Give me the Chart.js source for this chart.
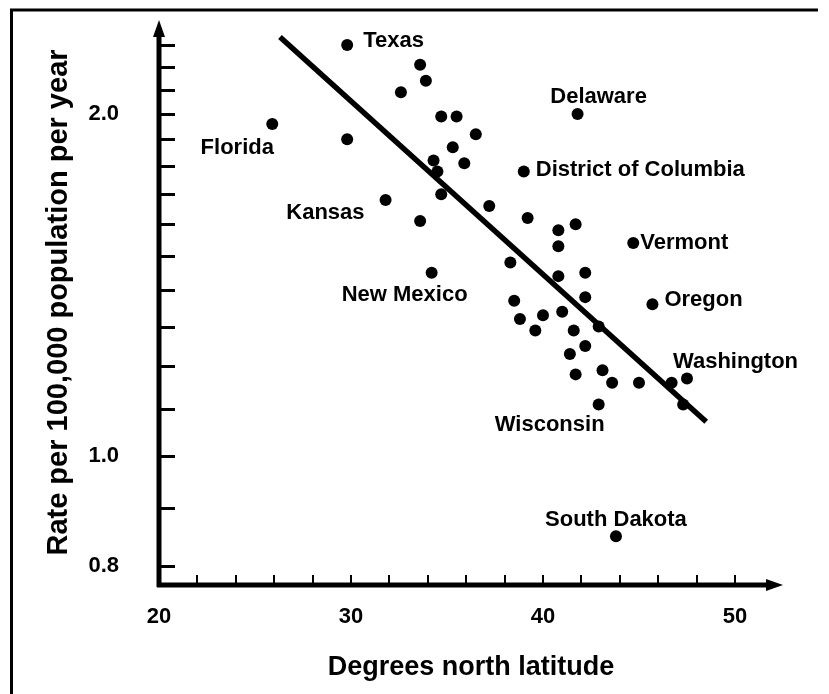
<!DOCTYPE html>
<html>
<head>
<meta charset="utf-8">
<script src="https://cdn.jsdelivr.net/npm/chart.js@4.4.1/dist/chart.umd.min.js"></script>
<style>
  html, body { margin: 0; padding: 0; background: #fff; }
  canvas { display: block; }
</style>
</head>
<body>
<canvas id="chart" width="829" height="694"></canvas>
<script>
// Mortality rate by state against latitude (log scale rate)
const latitude = [29.8, 33.6, 33.9, 32.6, 25.9, 34.7, 35.5, 36.5, 29.8, 35.3,
                  34.3, 35.9, 34.5, 34.7, 31.8, 33.6, 41.8, 39.0, 37.2, 39.2,
                  41.7, 40.8, 34.2, 40.8, 44.7, 38.3, 40.8, 42.2, 38.5, 42.2,
                  45.7, 38.8, 40.0, 41.0, 39.6, 41.6, 42.9, 42.2, 41.4, 41.7,
                  43.1, 43.6, 45.0, 46.7, 47.5, 42.9, 47.3, 43.8];
const rate = [2.30, 2.21, 2.14, 2.09, 1.96, 1.99, 1.99, 1.92, 1.90, 1.87,
              1.82, 1.81, 1.78, 1.70, 1.68, 1.61, 2.00, 1.78, 1.66, 1.62,
              1.60, 1.58, 1.45, 1.53, 1.54, 1.48, 1.44, 1.45, 1.37, 1.38,
              1.36, 1.32, 1.33, 1.34, 1.29, 1.29, 1.30, 1.25, 1.23, 1.18,
              1.19, 1.16, 1.16, 1.16, 1.17, 1.11, 1.11, 0.85];
const stateName = ['Texas', '', '', '', 'Florida', '', '', '', '', '',
                   '', '', '', '', 'Kansas', '', 'Delaware', 'District of Columbia', '', '',
                   '', '', 'New Mexico', '', 'Vermont', '', '', '', '', '',
                   'Oregon', '', '', '', '', '', '', '', '', '',
                   '', '', '', '', 'Washington', 'Wisconsin', '', 'South Dakota'];

// Fitted trend line end points
const fitLatitude = [26.3, 48.5];
const fitRate = [2.338, 1.072];

// Axis ticks
const xTickValues = [20, 22, 24, 26, 28, 30, 32, 34, 36, 38, 40, 42, 44, 46, 48, 50];
const xTickLabels = [20, 30, 40, 50];
const yTickValues = [0.8, 0.9, 1.0, 1.1, 1.2, 1.3, 1.4, 1.5, 1.6, 1.7, 1.8, 1.9, 2.0, 2.1, 2.2, 2.3];
const yTickLabels = [0.8, 1.0, 2.0];

const FONT = 'Liberation Sans, Arial, Helvetica, sans-serif';

// Where each state name sits relative to its dot
const namePlacement = {
  'Texas':                { dx: 16,  dy: -4,  align: 'left' },
  'Florida':              { dx: -35, dy: 24,  align: 'center' },
  'Kansas':               { dx: -21, dy: 13,  align: 'right' },
  'Delaware':             { dx: 21,  dy: -17, align: 'center' },
  'District of Columbia': { dx: 12,  dy: -2,  align: 'left' },
  'New Mexico':           { dx: -27, dy: 22,  align: 'center' },
  'Vermont':              { dx: 7,   dy: 0,   align: 'left' },
  'Oregon':               { dx: 12,  dy: -4,  align: 'left' },
  'Washington':           { dx: -14, dy: -17, align: 'left' },
  'Wisconsin':            { dx: -49, dy: 20,  align: 'center' },
  'South Dakota':         { dx: 0,   dy: -16, align: 'center' }
};

const framePlugin = {
  id: 'frame',
  beforeDraw(chart) {
    const ctx = chart.ctx;
    ctx.save();
    ctx.fillStyle = '#fff';
    ctx.fillRect(0, 0, chart.width, chart.height);
    ctx.strokeStyle = '#000';
    ctx.lineWidth = 3;
    ctx.beginPath();
    ctx.moveTo(11.5, chart.height);
    ctx.lineTo(11.5, 10);
    ctx.lineTo(818, 10);
    ctx.stroke();
    ctx.restore();
  }
};

const axesPlugin = {
  id: 'arrowAxes',
  afterDatasetsDraw(chart) {
    const { ctx, chartArea, scales } = chart;
    const { left, right, top, bottom } = chartArea;
    ctx.save();
    ctx.strokeStyle = '#000';
    ctx.fillStyle = '#000';
    ctx.lineCap = 'butt';
    // axis lines
    ctx.lineWidth = 5;
    ctx.beginPath();
    ctx.moveTo(left, bottom + 2);
    ctx.lineTo(left, top + 12);
    ctx.moveTo(left - 2, bottom);
    ctx.lineTo(right - 12, bottom);
    ctx.stroke();
    // arrow heads
    ctx.beginPath();
    ctx.moveTo(left, top);
    ctx.lineTo(left - 6, top + 17);
    ctx.lineTo(left + 6, top + 17);
    ctx.closePath();
    ctx.fill();
    ctx.beginPath();
    ctx.moveTo(right, bottom);
    ctx.lineTo(right - 17, bottom - 6);
    ctx.lineTo(right - 17, bottom + 6);
    ctx.closePath();
    ctx.fill();
    // inward tick marks
    ctx.lineWidth = 3;
    ctx.beginPath();
    scales.y.ticks.forEach(t => {
      const py = Math.round(scales.y.getPixelForValue(t.value)) + 0.5;
      ctx.moveTo(left, py);
      ctx.lineTo(left + 16, py);
    });
    ctx.stroke();
    ctx.lineWidth = 2;
    ctx.beginPath();
    scales.x.ticks.forEach(t => {
      if (t.value <= 20) return;
      const px = Math.round(scales.x.getPixelForValue(t.value));
      ctx.moveTo(px, bottom);
      ctx.lineTo(px, bottom - 10);
    });
    ctx.stroke();
    ctx.restore();
  }
};

const namesPlugin = {
  id: 'stateNames',
  afterDatasetsDraw(chart) {
    const ctx = chart.ctx;
    const meta = chart.getDatasetMeta(0);
    ctx.save();
    ctx.fillStyle = '#000';
    ctx.font = 'bold 22px ' + FONT;
    ctx.textBaseline = 'middle';
    stateName.forEach((name, i) => {
      if (!name) return;
      const pt = meta.data[i];
      const p = namePlacement[name];
      ctx.textAlign = p.align;
      ctx.fillText(name, pt.x + p.dx, pt.y + p.dy);
    });
    ctx.restore();
  }
};

new Chart(document.getElementById('chart'), {
  type: 'scatter',
  data: {
    datasets: [
      {
        data: latitude.map((lat, i) => ({ x: lat, y: rate[i] })),
        backgroundColor: '#000',
        borderWidth: 0,
        pointRadius: 6,
        pointHoverRadius: 6
      },
      {
        type: 'line',
        data: fitLatitude.map((lat, i) => ({ x: lat, y: fitRate[i] })),
        borderColor: '#000',
        borderWidth: 5.5,
        pointRadius: 0,
        fill: false
      }
    ]
  },
  options: {
    responsive: false,
    animation: false,
    devicePixelRatio: 1,
    layout: { padding: { left: 0, top: 20, right: 46, bottom: 0 } },
    plugins: {
      legend: { display: false },
      tooltip: { enabled: false }
    },
    scales: {
      x: {
        type: 'linear',
        min: 20,
        max: 52.5,
        grid: { display: false },
        border: { display: false },
        afterBuildTicks: s => { s.ticks = xTickValues.map(v => ({ value: v })); },
        afterFit: s => { s.height = 109; s.paddingLeft = 0; s.paddingRight = 0; },
        ticks: {
          autoSkip: false,
          maxRotation: 0,
          padding: 11,
          color: '#000',
          font: { family: FONT, size: 22, weight: 'bold' },
          callback: v => xTickLabels.includes(v) ? String(v) : ''
        },
        title: {
          display: true,
          text: 'Degrees north latitude',
          color: '#000',
          font: { family: FONT, size: 27, weight: 'bold' },
          padding: { top: 10, bottom: 10 }
        }
      },
      y: {
        type: 'logarithmic',
        min: 0.77,
        max: 2.42,
        grid: { display: false },
        border: { display: false },
        afterBuildTicks: s => { s.ticks = yTickValues.map(v => ({ value: v })); },
        afterFit: s => { s.width = 159; s.paddingTop = 0; s.paddingBottom = 0; },
        ticks: {
          autoSkip: false,
          padding: 32,
          color: '#000',
          font: { family: FONT, size: 22, weight: 'bold' },
          callback: v => yTickLabels.some(l => Math.abs(l - v) < 1e-9) ? Number(v).toFixed(1) : ''
        },
        title: {
          display: true,
          text: 'Rate per 100,000 population per year',
          color: '#000',
          font: { family: FONT, size: 29, weight: 'bold' },
          padding: { top: 42, bottom: 0 }
        }
      }
    }
  },
  plugins: [framePlugin, axesPlugin, namesPlugin]
});
</script>
</body>
</html>
